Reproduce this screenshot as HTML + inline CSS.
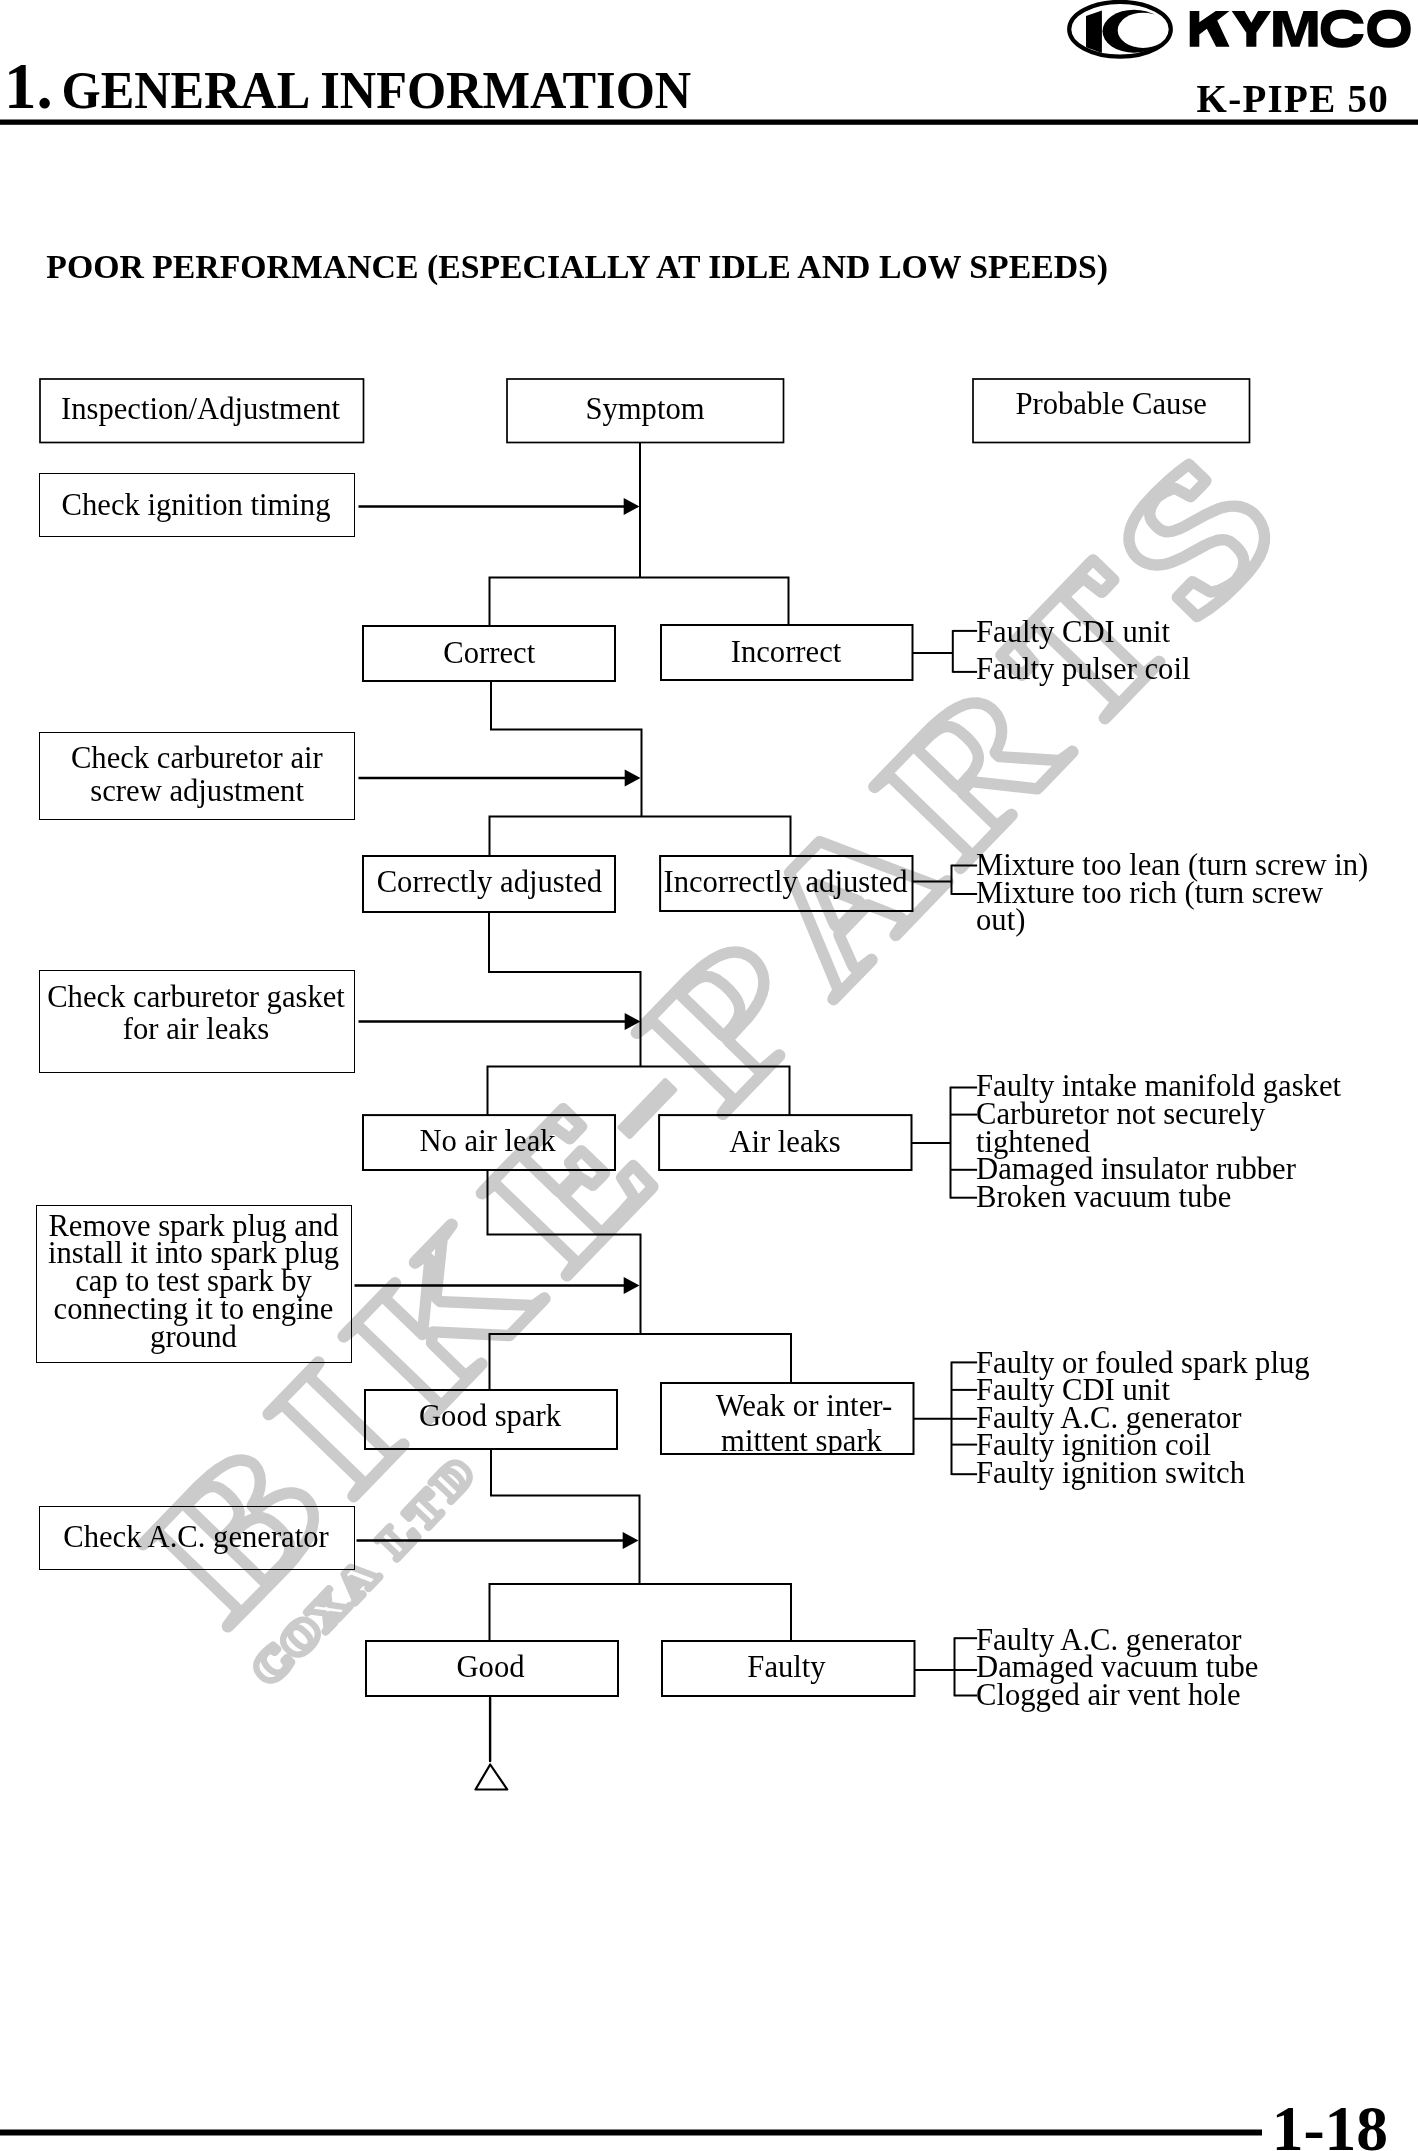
<!DOCTYPE html>
<html><head><meta charset="utf-8"><title>K-PIPE 50 - General Information</title>
<style>
html,body{margin:0;padding:0;background:#fff;}
body{width:1418px;height:2151px;position:relative;overflow:hidden;font-family:"Liberation Serif",serif;}
svg{position:absolute;left:0;top:0;will-change:transform;}
svg text{font-family:"Liberation Serif",serif;fill:#000;}
</style></head><body>
<svg width="1418" height="2151" viewBox="0 0 1418 2151">
<g transform="translate(228,1635) rotate(-46.0)" fill="#cbcbcb" fill-rule="evenodd">
<path d="M19.5,-14.2 5.1,-12.3 2.2,-11 0.3,-8.3 0,-6.5 0.2,-4 1,-2.5 3.4,-0.5 7,0.2 88,0.8 101,0.4 117.2,-1.7 127,-4.2 131.5,-5.9 139,-9.4 145.9,-14.3 151.5,-20.2 155,-26.3 156.5,-30.1 157.5,-34 158,-39.4 157.6,-42.9 156.1,-48 153.6,-52.9 151.7,-55.6 149.5,-58 145,-61.7 136.3,-66.5 129.9,-68.8 123.3,-70.4 129.9,-73.8 136.5,-78.9 141.6,-85 144.9,-91.7 146.3,-98.4 145.9,-103.6 143.8,-109.6 140.1,-115.1 134.9,-119.8 129.2,-123.1 125.6,-124.6 113.6,-127.9 103.6,-129.4 86.6,-130.5 7.4,-130.5 4.3,-130.2 2,-129 0.2,-126.3 0,-123.8 0.3,-122 2.2,-119.2 5.2,-118 19.5,-116.2ZM81.5,-60.7 89.2,-60.2 95.4,-58.9 99.9,-56.8 102,-55.2 103.6,-53.1 105.5,-49.2 106.5,-42.6 106.5,-35.1 105.6,-28 104.5,-24.7 102.4,-21 99.6,-18.4 95.9,-16.5 89.4,-15.4 69.2,-15.7 69.2,-60.7ZM69.2,-114.4 79.7,-114.4 86.2,-113.5 90.5,-111.6 93,-109.1 94.3,-105.8 95,-102.2 95.2,-96.8 94.9,-90.4 94.3,-86.6 92.8,-82.7 91.7,-81 89.4,-79.2 86.1,-77.7 81.8,-76.9 69.2,-76.8ZM57.9,-119.1 57.8,-73.2 58.6,-68.7 57.8,-64.3 57.9,-10.9 30.9,-11.2 30.9,-119.1ZM96.8,-70.4 100.5,-73.7 103.9,-79.3 105.4,-84.2 106.5,-92.2 106.5,-100.6 105.4,-108.5 103.6,-113.3 100.2,-118.3 111.3,-116.7 118.5,-115 124.2,-112.8 130.1,-109 133.5,-104.5 134.7,-101.1 135,-99.3 133.6,-94.1 132.1,-91.3 129.9,-88.5 125.5,-84.6 120.1,-81.5 113.6,-79.1 108.7,-78 106,-76.7 105.1,-75.5 104.2,-73.3 103.9,-67.7ZM112.3,-60.6 120.2,-59.4 126.6,-57.9 132.1,-55.9 138.5,-52.4 141.6,-49.8 144.8,-45.4 146.1,-42.2 146.5,-38 145.6,-33.5 143.6,-29 140.5,-24.8 136.1,-21.1 130.4,-17.8 123.5,-15.1 115.2,-12.9 109.7,-12 112.9,-16.2 115.9,-22.5 117.2,-28.1 117.9,-34.9 117.9,-43.2 117.1,-49.7 115.5,-54.9Z"/>
<path d="M198.1,-14.1 186,-12.3 183.8,-11.5 181.7,-9.4 181.2,-8.1 181.2,-4.3 182.5,-1.9 183.6,-0.9 185.6,-0.1 188.9,0.2 256.3,0.2 260.4,-0.1 262.5,-1 264.3,-3 265,-5.7 264.8,-8.1 264.3,-9.4 262.2,-11.5 260,-12.3 247.9,-14.1 247.9,-116.2 260.3,-118.1 262.2,-118.9 263.4,-119.8 264.8,-122.3 265,-124.6 264.3,-127.3 262.4,-129.4 260.2,-130.3 256.3,-130.5 188.9,-130.5 185.8,-130.3 183.6,-129.4 181.7,-127.3 181,-124.6 181.2,-122.3 181.7,-121 183.7,-118.9 185.9,-118.1 198.1,-116.3ZM236.5,-119.1 236.5,-11.2 209.5,-11.2 209.5,-119.1Z"/>
<path d="M307.1,-14.1 294.2,-12.3 291.9,-11.5 289.8,-9.5 289.2,-8.1 289,-5.7 289.9,-2.6 291,-1.4 293.2,-0.2 297,0.2 369.3,0.2 372.8,-0.1 375.2,-1.4 377,-4.1 377.2,-6.5 376.3,-9.7 375.1,-10.9 372.1,-12.3 356.9,-14.2 356.9,-53.5 359.5,-55.5 406.4,-1.9 408.1,-0.6 410.2,0.1 413,0.2 460,0.2 463.6,-0.1 466,-1.4 467.1,-2.6 468,-5.7 467.8,-8.2 467,-9.7 465.8,-11 463.7,-12.1 452.3,-14.3 392.7,-81.4 392.7,-81.9 436.2,-115.9 451.5,-118 453.7,-118.8 455.8,-120.8 456.4,-122.2 456.6,-124.6 455.7,-127.7 453.6,-129.6 451.6,-130.3 449.3,-130.5 399.7,-130.5 396.7,-130.3 394.7,-129.6 392.6,-127.7 391.9,-126.2 391.7,-123.7 392,-122.1 392.7,-120.5 393.9,-119.2 396,-118.2 402.8,-116.9 356.9,-80.6 356.9,-116.3 370.1,-118 373.1,-119.5 374.9,-122.2 375.1,-124.6 374.2,-127.7 373.1,-128.9 370.7,-130.2 366.5,-130.5 296.9,-130.5 293.4,-130.2 291,-128.9 289.9,-127.7 289,-124.6 289.2,-122.2 290.9,-119.5 294,-118 307.1,-116.3ZM345.5,-119.1 345.5,-68.9 345.7,-67.5 347,-65 349.3,-63.5 350.8,-63.2 348,-61.1 346.5,-59.4 345.6,-56.2 345.5,-11.2 318.5,-11.2 318.5,-119.1ZM381.5,-85.6 381.5,-78.8 382,-76.7 383,-75.2 439.9,-11.2 413.5,-11.2 364.5,-67 362.2,-68.6 360.4,-68.9ZM415.7,-114.4 416,-119.1 421.8,-119.1Z"/>
<path d="M492.8,-12.2 490.7,-11.4 489.5,-10.4 488.2,-8 488,-5.7 488.8,-2.9 489.7,-1.7 490.9,-0.7 494,0.1 614.4,0.2 618.8,-0 621.7,-1.6 623.2,-4 623.5,-5.4 625,-34.2 624.3,-37.2 623.4,-38.5 622.1,-39.5 620.3,-40.2 615.8,-40.5 602.7,-40.4 599.8,-39.7 598.4,-38.7 596.8,-35.8 592.2,-16.6 580.3,-16 554.3,-15.9 554.3,-58.1 569.3,-58.1 571.8,-47.2 574.2,-44.9 576.2,-44.2 589.4,-44 594.8,-44.3 596.6,-45 597.8,-45.9 598.7,-47.1 599.5,-49.9 599.5,-82.3 598.7,-85.2 596.6,-87.3 594.8,-88 592,-88.2 575.9,-88 574.2,-87.4 571.8,-85.1 569.3,-74.5 554.3,-74.5 554.3,-114.4 574.1,-114.3 586.3,-113.7 588.7,-98 589,-96.7 590.5,-94.6 593.4,-93.2 595.2,-93 612.4,-93.2 614.2,-93.9 615.5,-94.8 616.4,-96 617.1,-98.8 617.1,-124.6 616.4,-127.4 615.5,-128.6 614.2,-129.6 612.4,-130.2 607.1,-130.5 497.1,-130.5 492.7,-130.2 490.9,-129.6 489.7,-128.6 488.2,-126.1 488,-124.6 488.2,-122.3 489.6,-119.8 490.8,-118.8 492.7,-118.1 504.5,-116.4 504.5,-14ZM515.9,-11.3 515.9,-119.1 543,-119.1 542.9,-70.9 543.6,-66.3 542.9,-61.7 543,-11.2ZM605.7,-119.1 605.7,-104.3 599.2,-104.3 597,-119.1ZM579,-66.3 581.5,-76.9 588.1,-76.9 588.1,-55.4 581.5,-55.4ZM606.9,-29.1 613.3,-29.1 612.4,-11.2 602.7,-11.2Z"/>
<rect x="635" y="-73.2" width="70" height="18.4" rx="3"/>
<path d="M730.7,-14.1 717.8,-12.4 715.7,-11.7 713.5,-9.7 712.7,-8.2 712.5,-5.7 713.3,-2.8 715.5,-0.6 717.3,0 719.6,0.2 799.2,0.2 801.9,-0.2 804.2,-1.6 805.8,-4.2 806,-6.5 805.1,-9.5 802.9,-11.6 800.2,-12.4 780.5,-14.4 780.5,-48.7 806,-49.2 816.5,-50.5 825.2,-52.5 834.3,-55.9 840.8,-59.7 846.3,-64.4 851.7,-71.3 854.7,-77.6 856.6,-85.3 856.9,-92.9 855.6,-99.8 852.7,-106.9 850.2,-110.7 847.6,-113.7 842,-118.4 834.4,-122.7 825.6,-125.9 816.2,-128.1 810.4,-129 791.9,-130.4 718.2,-130.5 715.1,-130.1 712.7,-128.7 711.2,-126.1 711,-123.7 711.8,-120.9 713.9,-118.8 716.3,-117.9 730.7,-116.2ZM780.5,-114.4 788,-114.2 792.6,-113.6 796.4,-112.7 799.4,-111.4 801.4,-110.1 803,-108.3 804.3,-105.9 805.4,-102.5 806.4,-94.8 806.5,-87.1 805.8,-80.6 804.8,-76.2 803.4,-73 800.9,-69.7 797.3,-67.4 794,-66.2 787.9,-65.1 780.5,-64.9ZM769.1,-119.1 769.1,-61.3 769.8,-56.8 769.1,-52.3 769.1,-11.2 742,-11.2 742,-119.1ZM808.2,-60.9 812.2,-65.5 815.5,-72.4 817.1,-78.8 817.9,-86.7 817.8,-95.6 816.5,-105.2 813.7,-112.7 810.1,-117.5 818.4,-116 826.4,-113.6 829.7,-112.3 835.3,-109.2 839.6,-105.6 842.6,-101.5 844.6,-96.8 845.6,-91.3 845.2,-86.7 843.9,-81.5 841.7,-76.8 838.5,-72.7 834.3,-69.1 829,-66 822.4,-63.5 814.4,-61.7Z"/>
<path d="M876.5,-12.2 873.9,-10.8 872.9,-9.6 872.2,-8.1 872,-5.7 872.2,-4.3 873.4,-1.9 875.6,-0.4 877.1,0 927.9,0.2 933,0.1 935,-0.3 937.4,-1.9 938.6,-4.3 938.6,-8 937.2,-10.5 934.4,-12.1 921,-14 932,-41.4 965.9,-41.4 977.3,-14 965.5,-12 962.9,-10.5 961.5,-8 961.4,-4.3 962.7,-1.9 964.9,-0.4 967.1,0.1 972.2,0.2 1041.6,0.1 1044.4,-0.4 1046.6,-1.9 1047.4,-3.1 1048,-5.7 1047.8,-8.2 1046.1,-10.8 1043.5,-12.2 1035.9,-13.9 987,-127.9 985,-130.3 983.4,-131.1 980,-131.5 939.1,-131.4 936.4,-131 933.8,-129.2 883.9,-13.9ZM949.2,-82.4 959.4,-57.5 938.7,-57.5ZM942.1,-120.1 977.9,-120.1 1024.7,-11.2 989,-11.2 988.9,-14.7 988.3,-17.1 974.9,-49.3 974.1,-50.7 971.5,-52.5 971.4,-57.1 970.9,-59.6 954.5,-99.4 952.8,-101.8 951.5,-102.5 948.5,-102.9 945.8,-101.8 944,-99.5 927.2,-59.7 926.7,-57.1 926.6,-52.6 924.4,-51.4 922.8,-49.2 909.9,-17 909.4,-14.7 909.3,-11.2 895.1,-11.2Z"/>
<path d="M1071.8,-14.1 1059.6,-12.3 1057.2,-11.4 1055.2,-9.4 1054.6,-8 1054.6,-4.3 1055.9,-1.9 1058.4,-0.2 1061.9,0.2 1132.9,0.2 1135.7,-0 1137.9,-0.9 1139.7,-3 1140.4,-5.7 1140.2,-8.1 1138.6,-10.7 1135.4,-12.3 1121.6,-14.1 1121.6,-52.6 1127.2,-52.6 1166.2,-2.2 1167.8,-0.8 1169.9,0 1172.5,0.2 1220,0.2 1223.3,-0 1225.4,-0.9 1227.3,-3 1228,-5.7 1227.8,-7.9 1226.4,-10.5 1225.4,-11.4 1223.2,-12.2 1209.7,-14.4 1173.6,-57 1181,-60 1185.8,-62.7 1190.2,-66 1194.4,-70.2 1197.2,-74.2 1199.7,-79 1201.4,-84 1202.2,-88.6 1202.4,-94.8 1201.2,-101.2 1199.9,-104.6 1195.9,-111.4 1190.3,-117 1184.1,-121.1 1180.1,-123 1175.8,-124.7 1167.1,-127.2 1156.3,-129.1 1144.1,-130.2 1130.7,-130.5 1060.5,-130.5 1057.7,-130.3 1055.6,-129.4 1053.7,-127.3 1053,-124.6 1053.6,-121.3 1055.3,-119.1 1058.1,-118 1071.8,-116.2ZM1121.6,-114.4 1134.4,-114.2 1141.2,-113.3 1144.8,-112.3 1147.3,-111 1149,-109.7 1150.4,-107.9 1152,-103.6 1152.8,-99 1153.1,-92.5 1152.8,-85.2 1152,-80.8 1150.2,-76.1 1147.8,-73.2 1145.6,-71.8 1140.7,-70 1136.6,-69.2 1121.6,-68.8ZM1110.3,-119.1 1110.2,-65.2 1111,-60.7 1110.2,-56.2 1110.2,-11.2 1083.2,-11.2 1083.2,-119.1ZM1137.6,-57.8 1146.3,-59.7 1150.7,-61.6 1153.4,-63.2 1156.7,-66 1158.6,-68.2 1161.1,-72.5 1162.3,-75.3 1163.6,-80.8 1164.4,-87.4 1164.5,-93.3 1164.1,-100.7 1163.1,-106.5 1161.5,-111.2 1160,-114 1157.4,-117.4 1164.4,-116.1 1172.2,-113.9 1178.5,-111.1 1183.3,-108 1185.2,-106.2 1188.2,-102.4 1189.3,-100.3 1190.8,-95.7 1191,-90.4 1190.3,-86.9 1189.2,-83.4 1187.5,-80.2 1185.4,-77.3 1182.8,-74.7 1179.5,-72.2 1175.7,-70.1 1171.2,-68.2 1166,-66.6 1164.4,-65.9 1163.2,-64.7 1161.8,-61.3 1161.8,-55.1 1162.4,-53 1163.3,-51.6 1197.5,-11.2 1173.7,-11.2Z"/>
<path d="M1262.7,-4.2 1264.2,-1.6 1265.5,-0.7 1267.5,0 1270.8,0.2 1344.7,0.2 1348.3,-0 1350.1,-0.7 1351.3,-1.6 1352.8,-4.2 1353,-6.5 1352.2,-9.5 1350,-11.6 1347.9,-12.3 1332.7,-14.1 1332.7,-114.5 1349.2,-113.8 1351.3,-95 1352.2,-92.5 1354.3,-90.6 1356,-90 1358.8,-89.8 1375.2,-90 1377,-90.7 1378.3,-91.6 1379.2,-92.8 1380,-95.7 1380,-124.6 1379.2,-127.5 1378.3,-128.6 1377,-129.6 1375.2,-130.2 1369.8,-130.5 1245.2,-130.5 1240.8,-130.2 1239,-129.6 1237.7,-128.6 1236.8,-127.5 1236,-124.6 1236,-95.7 1236.8,-92.8 1237.7,-91.6 1239,-90.7 1240.8,-90 1257.1,-89.8 1259.9,-90 1261.6,-90.6 1263.7,-92.5 1264.6,-95 1266.7,-113.8 1282.8,-114.7 1282.8,-14.1 1267.9,-12.3 1265.6,-11.6 1264.3,-10.7 1262.7,-8.1ZM1255.8,-119.1 1253.8,-101.1 1247.4,-101.1 1247.4,-119.1ZM1321.4,-119.1 1321.3,-11.2 1294.2,-11.2 1294.2,-119.1ZM1368.6,-119.1 1368.6,-101.1 1362.1,-101.1 1360.1,-119.1Z"/>
<path d="M1427.1,-43.8 1406.4,-43.8 1403.8,-43.3 1401.4,-41.7 1400.2,-39.3 1400,-10.4 1400.7,-7.6 1401.6,-6.4 1404.1,-4.9 1419.2,-1.2 1437.6,1.3 1455.4,2.1 1474.2,1.6 1485.9,0.2 1494.8,-1.9 1502.6,-5 1509.4,-9.1 1515.1,-14.3 1519.6,-20.4 1522.8,-27.3 1524.4,-34.1 1525,-41.4 1524.3,-46.9 1522.5,-53 1519.5,-58.8 1515.7,-63.8 1511.1,-68.2 1505.7,-72.1 1501.3,-74.6 1496,-77 1486,-80.7 1461.9,-88.1 1454,-91.6 1451.1,-93.6 1449.1,-96.1 1448.2,-99.2 1448.1,-103 1448.4,-106.9 1449,-109.1 1450.4,-111.3 1451.7,-112.6 1454.9,-114.3 1457.8,-115.2 1462.9,-116.2 1464.8,-116 1471.5,-114.4 1477.8,-111.6 1482,-96.7 1483.3,-94.4 1485.6,-92.9 1489.2,-92.4 1503.2,-92.3 1509,-92.4 1511.6,-92.9 1513.9,-94.5 1514.7,-95.6 1515.4,-98.3 1515.4,-122 1514.7,-124.7 1513.9,-125.9 1512.8,-126.8 1510.5,-127.7 1497.7,-129.7 1485,-131.1 1465.4,-131.9 1448.4,-131.5 1438.2,-130.3 1429.7,-128.3 1422.7,-125.8 1419.4,-124.1 1413.2,-120 1408.4,-115.4 1406,-112.1 1403.1,-106.4 1401.3,-100 1400.9,-94.3 1401.6,-88.2 1403.2,-83 1406.3,-76.9 1410.1,-71.9 1413.7,-68.3 1419,-64.4 1425,-61 1436.2,-56.4 1463.7,-47.7 1468.9,-45.4 1473.6,-42.4 1476.1,-39.7 1477.3,-36.4 1477.6,-30.9 1477.2,-26.5 1476.5,-23.4 1475.4,-21 1473.9,-19.1 1472,-17.4 1469.5,-15.9 1466.3,-14.7 1458.9,-13.4 1453,-14.3 1448.1,-15.8 1442.3,-18.1 1437.7,-21 1433.3,-39.3 1432.8,-40.6 1431,-42.7 1429.6,-43.4ZM1411.4,-32.5 1423.2,-32.5 1427.1,-16.4 1428.7,-13.8 1432.5,-10.7 1421.2,-12.4 1411.4,-14.6ZM1481.6,-10.7 1485.2,-15.2 1487.3,-19.6 1488.5,-24.8 1489,-30.8 1488.8,-36.2 1488,-40.8 1485.9,-45.5 1483.5,-48.7 1480.8,-51.3 1477.8,-53.4 1470.1,-57.4 1463.1,-60 1439.9,-67.1 1428.8,-71.8 1424.1,-74.6 1420.3,-77.7 1417.2,-81.2 1415.3,-84.1 1413.4,-88.3 1412.4,-92.9 1412.3,-96.2 1413,-100.1 1414.6,-104.2 1417,-107.9 1420.4,-111.2 1424.7,-114 1433.1,-117.4 1442.3,-119.4 1439.5,-115.7 1437.8,-111.7 1436.9,-106.9 1436.6,-102 1436.9,-97.7 1437.8,-93.6 1439.9,-89.3 1442.3,-86.3 1446.8,-82.7 1453.9,-79 1460.5,-76.5 1482.3,-69.9 1496.2,-64.4 1501,-61.5 1505,-58.4 1508.2,-55 1510.7,-51.3 1512.8,-46 1513.6,-41.3 1513.2,-36.3 1512,-31 1509.8,-26.2 1506.7,-22 1502.7,-18.4 1497.6,-15.3 1491.3,-12.8 1483.9,-11ZM1486.4,-119.5 1504,-117.3 1504,-103.7 1491.9,-103.7 1488.2,-116.8Z"/>
</g>
<path transform="translate(272.1,1664.7) rotate(-46.5)" fill="#cbcbcb" fill-rule="evenodd" d="M2.2,17.9 8.1,17.6 14.5,16.5 16.7,15.8 17.8,15.2 18.4,14.6 18.9,13.7 19,12.7 19.1,4.7 18.7,3.8 17.4,2.7 16.1,2.2 14.4,2.1 11.1,2.1 9.4,2.6 8.7,3 7.7,4.3 7,8.1 5.5,8.6 3.9,8.8 2.9,8.7 1.6,8.3 0.1,7.1 -1,5.1 -1.7,2.1 -1.7,-1.9 -1,-5.2 -0.6,-6.3 0.3,-7.4 1.4,-8.2 2.3,-8.6 4.4,-8.8 6.6,-8.2 7.3,-5 8.2,-3.7 9.5,-3.1 11.3,-2.8 15.1,-2.9 16.3,-3.1 17.7,-3.9 18.2,-4.6 18.6,-5.4 18.7,-6.3 18.6,-13.1 18.4,-14 18,-14.8 17.5,-15.5 16.7,-16 14.6,-16.6 10.8,-17.3 5.2,-17.8 -0.1,-17.8 -5.8,-17.1 -10.1,-15.6 -11.6,-14.8 -13.7,-13.2 -15.9,-10.9 -16.7,-9.7 -17.8,-7.4 -18.4,-5.7 -19,-2.8 -19.2,0.3 -19,3.2 -18.7,4.9 -17.8,7.5 -16.5,9.9 -15.6,11.1 -14.5,12.3 -12.4,14.1 -10,15.5 -8.4,16.2 -5.6,17.1 -3.6,17.5ZM-8.2,-9.4 -5.4,-10.5 -6.7,-8.2 -7.7,-5.1 -8.1,-2.4 -8.1,1.6 -7.9,4.1 -7.4,6.4 -6.5,8.6 -5.4,10.5 -7.1,9.8 -8.7,8.8 -10.6,7.1 -11.6,5.7 -12.2,4.2 -12.7,1.4 -12.6,-2.1 -12.2,-4.1 -11.6,-5.7 -10.7,-7.1 -9.6,-8.3Z"/>
<path transform="translate(300.5,1637.2) rotate(-46.5)" fill="#cbcbcb" fill-rule="evenodd" d="M-21.1,1.5 -20.4,6 -19.9,7.5 -18.7,9.8 -16.8,12.3 -15.7,13.3 -13.6,14.8 -10.7,16.3 -6.2,17.4 -1.9,17.9 4,17.7 7.7,17.1 11,16.1 14.6,14.2 17,12.1 17.9,11 19.3,8.8 20.4,6 21,2.9 21.1,-1.7 20.4,-6.1 19.9,-7.6 18.7,-9.9 16.8,-12.4 15.8,-13.4 13.7,-14.8 10.8,-16.3 6.2,-17.4 1.9,-17.9 -4,-17.7 -7.9,-17.1 -11.2,-16.1 -13.6,-15 -15.7,-13.5 -17.7,-11.5 -19.4,-8.9 -20.4,-6.2 -21,-3.2ZM-3.7,-2.4 -3.2,-5.8 -2.5,-7.3 -1.9,-8.1 -1.1,-8.6 0,-8.9 1.1,-8.6 2.1,-7.9 3,-6.4 3.5,-4.3 3.8,-1.3 3.7,2.2 3.3,5 2.7,6.8 2.1,7.9 1.1,8.6 0,8.9 -1.1,8.6 -2.1,7.9 -2.7,6.8 -3.3,5 -3.6,3.2ZM-14.8,-0 -14.6,-2.4 -14.2,-4.4 -13.6,-6 -12.8,-7.4 -11.7,-8.5 -10.4,-9.4 -8.1,-10.4 -9,-8.5 -9.6,-6.4 -10.1,-2.9 -10.2,-0 -10,3.9 -9.6,6.2 -9,8.4 -8.1,10.4 -11,8.9 -12.2,7.8 -13.2,6.6 -13.9,5.1 -14.5,3.3ZM8.1,-10.4 11.1,-8.9 12.3,-7.9 13.2,-6.6 14,-5.2 14.5,-3.4 14.8,-0.1 14.5,3.3 13.9,5.1 13.2,6.6 12.2,7.8 11,8.9 9.5,9.8 8.1,10.4 8.9,8.6 9.6,6.4 10.2,1.3 10.1,-2.8 9.8,-5.4 9,-8.5Z"/>
<path transform="translate(328.0,1609.7) rotate(-46.5)" fill="#cbcbcb" fill-rule="evenodd" d="M-2.3,16.6 -0.6,17.4 0.9,17.5 17.4,17.5 19.6,17 20.4,16.5 21,15.8 21.3,15 21.5,12.5 21.3,11.7 20.9,10.8 20.4,10.1 19.6,9.6 18.6,9.3 16.4,8.9 8.5,-2.1 14.5,-8.9 16.8,-9.3 17.8,-9.6 18.6,-10.1 19.1,-10.8 19.5,-11.7 19.6,-12.5 19.5,-15 19.1,-15.8 17.9,-17 16.8,-17.4 15.2,-17.5 3.7,-17.5 1.9,-17.3 -0.2,-17.5 -16.1,-17.5 -17.6,-17.4 -18.6,-17 -19.4,-16.5 -19.9,-15.8 -20.3,-15 -20.4,-12.5 -20.3,-11.6 -19.9,-10.8 -19.3,-10.1 -18.6,-9.6 -15.4,-8.9 -8.7,0.3 -16.3,8.9 -18.6,9.3 -19.6,9.6 -20.4,10.2 -21,10.8 -21.3,11.7 -21.5,12.5 -21.3,15 -21,15.8 -20.4,16.5 -19.6,17 -17.4,17.5 -5.4,17.5 -3.5,17.2ZM-1.9,9.7 -1.9,9.8 -2.1,9.9ZM-1.6,1.4 -1.5,0.2 -2.1,-1.4 -9.1,-11.1 -5.7,-11.1 -5.2,-10 -1.2,-4.5 0.1,-3.5 1.4,-3.2 1.2,-2 1.8,-0.4 10.1,11.1 6.7,11.1 6.2,10 0.9,2.7 -0.3,1.7Z"/>
<path transform="translate(357.3,1580.3) rotate(-46.5)" fill="#cbcbcb" fill-rule="evenodd" d="M-4.9,8.3 -0.1,8.3 0.5,9.5 -0.8,10.3 -1.4,11 -1.7,11.8 -1.9,14.2 -1.7,15.1 -1.3,15.9 -0.8,16.6 0.7,17.4 2.9,17.6 18.3,17.6 19.9,17.1 20.7,16.6 21.7,15.1 21.8,12.7 21.7,11.8 21.3,11 20.7,10.3 20,9.8 18.5,9.3 8,-15.5 7.2,-16.5 6.2,-17.2 3.9,-17.6 -4.1,-17.6 -6.1,-17.2 -7.2,-16.5 -7.9,-15.5 -18.5,9.3 -20,9.8 -20.7,10.3 -21.3,11 -21.7,11.8 -21.8,12.7 -21.7,15.1 -20.7,16.6 -19.9,17.1 -18.3,17.6 -6.9,17.6 -5.5,17.5 -4.4,17.1 -3.7,16.6 -2.7,15.1 -2.6,12.7 -2.7,11.7 -3.2,10.8 -4.4,9.7 -5.3,9.4ZM4.1,2.6 3.9,1 0.2,-8 -1.2,-9 -2,-9.2 -2.8,-9.2 -3.8,-8.9 -2.8,-11.2 2.8,-11.2 12.3,11.2 8,11.2 5,3.8Z"/>
<path transform="translate(397.7,1538.2) rotate(-46.5)" fill="#cbcbcb" fill-rule="evenodd" d="M3,-9.2 4.7,-9.6 5.5,-10.2 6.4,-11.7 6.5,-12.5 6.4,-15 6,-15.8 5.4,-16.5 4.1,-17.2 1.7,-17.5 -15.4,-17.5 -17.6,-17 -18.3,-16.5 -18.9,-15.8 -19.3,-15 -19.4,-12.5 -19.3,-11.6 -18.9,-10.7 -17.5,-9.6 -15.4,-9.1 -15.4,9.1 -17.6,9.6 -18.9,10.7 -19.3,11.6 -19.4,12.5 -19.3,15 -18.4,16.5 -17,17.2 -15.1,17.5 13.8,17.5 16.1,17.3 17.4,16.6 17.9,16 18.5,14.4 19.4,5.9 19.4,5 19,4 18.5,3.3 17.6,2.7 16.4,2.3 14.7,2.1 11.4,2.2 9.8,2.5 9.1,2.9 8.2,3.9 6.6,8.3 1.6,8.4 1.6,-9ZM-9,-11.1 -4.8,-11.1 -4.8,11.1 -9,11.1Z"/>
<path transform="translate(425.2,1510.7) rotate(-46.5)" fill="#cbcbcb" fill-rule="evenodd" d="M-8.6,9 -10.8,9.3 -11.9,9.7 -13.1,10.8 -13.5,11.7 -13.6,14.1 -13.5,15 -12.5,16.5 -11.2,17.2 -8.8,17.5 9.1,17.5 11,17.2 12.4,16.5 13.3,15 13.5,14.1 13.3,11.7 13,10.9 12.4,10.2 11.1,9.4 8.5,9 8.5,-5.5 9,-4.3 9.6,-3.7 10.3,-3.2 11.5,-2.9 16.6,-2.8 18.3,-3.3 19.1,-3.8 20,-5.3 20.1,-6.2 20.1,-14.1 20,-15 19.1,-16.5 17.7,-17.2 15.7,-17.5 -15.3,-17.5 -17.5,-17.3 -19.1,-16.5 -20,-15 -20.1,-14.1 -20.1,-6.2 -20,-5.3 -19.1,-3.8 -18.3,-3.3 -16.6,-2.8 -11.7,-2.9 -10.3,-3.2 -9.6,-3.7 -9,-4.3 -8.6,-5.1ZM2.1,-11.1 2.1,11.1 -2.2,11.1 -2.2,-11.1Z"/>
<path transform="translate(452.7,1479.7) rotate(-46.5)" fill="#cbcbcb" fill-rule="evenodd" d="M-15.8,-17.6 -18,-17.3 -19.5,-16.5 -20.5,-15 -20.6,-14.1 -20.4,-11.6 -20,-10.7 -19.4,-10.1 -18.6,-9.6 -16.5,-9.1 -16.5,9 -18.7,9.6 -20,10.7 -20.5,11.6 -20.6,12.5 -20.5,14.9 -19.5,16.4 -18.2,17.2 -16.3,17.5 0.1,17.6 4.6,17.3 8,16.8 12,15.4 14.6,13.9 16.6,12 18.3,9.6 19.4,7.3 19.9,5.9 20.4,2.8 20.5,-1.7 20.1,-4.9 18.9,-8.7 17.3,-11.2 15.5,-13.1 14.1,-14.1 11.6,-15.5 8.8,-16.5 5.5,-17.1 -0.5,-17.6ZM0.4,-7.6 1.5,-6.8 2.5,-5.1 3,-2.9 3.2,-0 3,3.6 2.5,5.9 1.6,7.6 0.4,8.2ZM-10.1,-11.2 -6,-11.2 -6,11.1 -10.1,11.1ZM6.9,-10.4 9.1,-9.6 10.6,-8.8 11.8,-7.8 12.7,-6.6 13.4,-5.2 13.9,-3.5 14.2,-0.2 13.9,3.2 13.4,5 12.7,6.5 11.8,7.7 10.7,8.7 9.3,9.6 7.6,10.3 8.6,8 9.1,5.8 9.5,2.6 9.6,-1.3 9.3,-3.8 8.9,-6.1 8,-8.4Z"/>
<!-- header -->
<text x="4" y="107.6" font-size="65" font-weight="bold">1.</text>
<text transform="translate(61.5,107.6) scale(1,1.05)" font-size="50.35" font-weight="bold">GENERAL INFORMATION</text>
<text x="1196.5" y="111.5" font-size="39" font-weight="bold" letter-spacing="1.3">K-PIPE 50</text>
<rect x="0" y="119.5" width="1418" height="5.3" fill="#000"/>
<g transform="translate(1180,0) scale(0.16784)" fill="#000">
<path d="M58,65H115V132L213,65H295L222,122L295,278H215L160,172L115,205V278H58Z"/>
<path d="M308,65H385L425,135L465,65H543L455,195V278H395V195Z"/>
<path d="M555,65H640L688,215L735,65H820V278H765V125L712,278H662L610,125V278H555Z"/>
<path fill-rule="evenodd" d="M968,58C1053.8,58 1098,96.6 1098,171.5C1098,246.4 1053.8,285 968,285C882.2,285 838,246.4 838,171.5C838,96.6 882.2,58 968,58ZM968,110C1013.3,110 1041,133.2 1041,171C1041,208.8 1013.3,232 968,232C922.7,232 895,208.8 895,171C895,133.2 922.7,110 968,110Z"/>
<rect x="1030" y="141" width="80" height="62" fill="#fff"/>
<path fill-rule="evenodd" d="M1245,58C1330.8,58 1375,96.6 1375,171.5C1375,246.4 1330.8,285 1245,285C1159.2,285 1115,246.4 1115,171.5C1115,96.6 1159.2,58 1245,58ZM1245,110C1290.3,110 1318,133.2 1318,171C1318,208.8 1290.3,232 1245,232C1199.7,232 1172,208.8 1172,171C1172,133.2 1199.7,110 1245,110Z"/>
</g>
<g>
<polygon points="1086,15.9 1101.9,10.6 1101.9,52.9 1086,47.2" fill="#000"/>
<ellipse cx="1134" cy="31.2" rx="31.5" ry="21.5" fill="#000"/>
<ellipse cx="1143.1" cy="30.3" rx="25.4" ry="17.6" fill="#fff"/>
<ellipse cx="1120" cy="29.3" rx="50.8" ry="27.4" fill="none" stroke="#000" stroke-width="4.2"/>
</g>
<text x="46.3" y="278.3" font-size="33.76" font-weight="bold">POOR PERFORMANCE (ESPECIALLY AT IDLE AND LOW SPEEDS)</text>
<!-- flowchart -->
<g transform="translate(0.5,0.5)"><rect x="39.5" y="378.5" width="323.5" height="63.5" fill="none" stroke="#000" stroke-width="1.7"/>
<text transform="translate(200.0,418) scale(1,1.0)" text-anchor="middle" font-size="30.65" font-weight="normal" >Inspection/Adjustment</text>
<rect x="506.5" y="378.5" width="276.5" height="63.5" fill="none" stroke="#000" stroke-width="1.7"/>
<text transform="translate(644.5,418) scale(1,1.0)" text-anchor="middle" font-size="30.65" font-weight="normal" >Symptom</text>
<rect x="972.5" y="378.5" width="276.5" height="63.5" fill="none" stroke="#000" stroke-width="1.7"/>
<text transform="translate(1110.7,413.8) scale(1,1.0)" text-anchor="middle" font-size="30.65" font-weight="normal" >Probable Cause</text>
<rect x="39.0" y="473.0" width="315.0" height="63.0" fill="none" stroke="#000" stroke-width="1"/>
<text transform="translate(195.5,514) scale(1,1.0)" text-anchor="middle" font-size="30.65" font-weight="normal" >Check ignition timing</text>
<rect x="39.0" y="732.0" width="315.0" height="87.0" fill="none" stroke="#000" stroke-width="1"/>
<text transform="translate(196.3,767.5) scale(1,1.0)" text-anchor="middle" font-size="30.65" font-weight="normal" >Check carburetor air</text>
<text transform="translate(196.6,800.5) scale(1,1.0)" text-anchor="middle" font-size="30.65" font-weight="normal" >screw adjustment</text>
<rect x="39.0" y="970.0" width="315.0" height="102.0" fill="none" stroke="#000" stroke-width="1"/>
<text transform="translate(195.5,1006) scale(1,1.0)" text-anchor="middle" font-size="30.65" font-weight="normal" >Check carburetor gasket</text>
<text transform="translate(195.5,1038) scale(1,1.0)" text-anchor="middle" font-size="30.65" font-weight="normal" >for air leaks</text>
<rect x="36.0" y="1205.0" width="315.0" height="157.0" fill="none" stroke="#000" stroke-width="1"/>
<text transform="translate(193.0,1235.0) scale(1,1.0)" text-anchor="middle" font-size="30.65" font-weight="normal" >Remove spark plug and</text>
<text transform="translate(193.0,1262.8) scale(1,1.0)" text-anchor="middle" font-size="30.65" font-weight="normal" >install it into spark plug</text>
<text transform="translate(193.0,1290.6) scale(1,1.0)" text-anchor="middle" font-size="30.65" font-weight="normal" >cap to test spark by</text>
<text transform="translate(193.0,1318.4) scale(1,1.0)" text-anchor="middle" font-size="30.65" font-weight="normal" >connecting it to engine</text>
<text transform="translate(193.0,1346.2) scale(1,1.0)" text-anchor="middle" font-size="30.65" font-weight="normal" >ground</text>
<rect x="39.0" y="1506.0" width="315.0" height="63.0" fill="none" stroke="#000" stroke-width="1"/>
<text transform="translate(195.5,1546) scale(1,1.0)" text-anchor="middle" font-size="30.65" font-weight="normal" >Check A.C. generator</text>
<line x1="358" y1="506" x2="625.2" y2="506" stroke="#000" stroke-width="2.7"/>
<polygon points="639,506 623.2,497.6 623.2,514.4" fill="#000"/>
<line x1="358" y1="777.5" x2="626.2" y2="777.5" stroke="#000" stroke-width="2.7"/>
<polygon points="640,777.5 624.2,769.1 624.2,785.9" fill="#000"/>
<line x1="358" y1="1021" x2="626.2" y2="1021" stroke="#000" stroke-width="2.7"/>
<polygon points="640,1021 624.2,1012.6 624.2,1029.4" fill="#000"/>
<line x1="354" y1="1285" x2="625.2" y2="1285" stroke="#000" stroke-width="2.7"/>
<polygon points="639,1285 623.2,1276.6 623.2,1293.4" fill="#000"/>
<line x1="356" y1="1540" x2="624.2" y2="1540" stroke="#000" stroke-width="2.7"/>
<polygon points="638,1540 622.2,1531.6 622.2,1548.4" fill="#000"/>
<line x1="639.5" y1="442" x2="639.5" y2="577" stroke="#000" stroke-width="2"/>
<polyline points="489,625 489,577 788,577 788,624" fill="none" stroke="#000" stroke-width="2" stroke-linejoin="miter"/>
<rect x="362.5" y="625.5" width="252.0" height="55.0" fill="none" stroke="#000" stroke-width="2"/>
<text transform="translate(488.7,662) scale(1,1.0)" text-anchor="middle" font-size="30.65" font-weight="normal" >Correct</text>
<rect x="660.5" y="624.5" width="251.5" height="55.0" fill="none" stroke="#000" stroke-width="2"/>
<text transform="translate(785.5,661) scale(1,1.0)" text-anchor="middle" font-size="30.65" font-weight="normal" >Incorrect</text>
<polyline points="490.5,680.5 490.5,729 641,729 641,816" fill="none" stroke="#000" stroke-width="2" stroke-linejoin="miter"/>
<polyline points="489,855.5 489,816 790,816 790,855.5" fill="none" stroke="#000" stroke-width="2" stroke-linejoin="miter"/>
<rect x="362.5" y="855.5" width="252.0" height="56.0" fill="none" stroke="#000" stroke-width="2"/>
<text transform="translate(488.9,891.3) scale(1,1.0)" text-anchor="middle" font-size="30.65" font-weight="normal" >Correctly adjusted</text>
<rect x="659.6" y="855.5" width="252.39999999999998" height="55.0" fill="none" stroke="#000" stroke-width="2"/>
<text transform="translate(785.0,891) scale(1,1.0)" text-anchor="middle" font-size="30.65" font-weight="normal" >Incorrectly adjusted</text>
<polyline points="488.5,911.5 488.5,971.5 640,971.5 640,1066" fill="none" stroke="#000" stroke-width="2" stroke-linejoin="miter"/>
<polyline points="487,1114.6 487,1066 789,1066 789,1114.6" fill="none" stroke="#000" stroke-width="2" stroke-linejoin="miter"/>
<rect x="362.5" y="1114.6" width="252.0" height="54.90000000000009" fill="none" stroke="#000" stroke-width="2"/>
<text transform="translate(487.0,1150) scale(1,1.0)" text-anchor="middle" font-size="30.65" font-weight="normal" >No air leak</text>
<rect x="658.6" y="1114.6" width="252.39999999999998" height="54.90000000000009" fill="none" stroke="#000" stroke-width="2"/>
<text transform="translate(784.5,1151) scale(1,1.0)" text-anchor="middle" font-size="30.65" font-weight="normal" >Air leaks</text>
<polyline points="487,1169.5 487,1234 640,1234 640,1333.5" fill="none" stroke="#000" stroke-width="2" stroke-linejoin="miter"/>
<polyline points="489,1389.5 489,1333.5 790.5,1333.5 790.5,1382.5" fill="none" stroke="#000" stroke-width="2" stroke-linejoin="miter"/>
<rect x="364.5" y="1389.5" width="252.0" height="59.0" fill="none" stroke="#000" stroke-width="2"/>
<text transform="translate(489.5,1425) scale(1,1.0)" text-anchor="middle" font-size="30.65" font-weight="normal" >Good spark</text>
<rect x="660.5" y="1382.5" width="252.5" height="71.0" fill="none" stroke="#000" stroke-width="2"/>
<clipPath id="cw"><rect x="660" y="1382" width="253" height="71.5"/></clipPath>
<g clip-path="url(#cw)">
<text transform="translate(803.5,1415) scale(1,1.0)" text-anchor="middle" font-size="30.8" font-weight="normal" >Weak or inter-</text>
<text transform="translate(801.0,1450) scale(1,1.0)" text-anchor="middle" font-size="30.65" font-weight="normal" >mittent spark</text>
</g>
<polyline points="490.5,1448.5 490.5,1495 639,1495 639,1583.5" fill="none" stroke="#000" stroke-width="2" stroke-linejoin="miter"/>
<polyline points="489,1640.5 489,1583.5 790.5,1583.5 790.5,1640.5" fill="none" stroke="#000" stroke-width="2" stroke-linejoin="miter"/>
<rect x="365.5" y="1640.5" width="252.0" height="55.0" fill="none" stroke="#000" stroke-width="2"/>
<text transform="translate(490.0,1676) scale(1,1.0)" text-anchor="middle" font-size="30.65" font-weight="normal" >Good</text>
<rect x="661.5" y="1640.5" width="252.5" height="55.0" fill="none" stroke="#000" stroke-width="2"/>
<text transform="translate(786.0,1676) scale(1,1.0)" text-anchor="middle" font-size="30.65" font-weight="normal" >Faulty</text>
<line x1="489.6" y1="1697.5" x2="489.6" y2="1760.5" stroke="#000" stroke-width="2.4" stroke-linecap="round"/>
<polygon points="489.7,1764 475,1789 506.8,1789" fill="none" stroke="#000" stroke-width="2.2" stroke-linejoin="round"/>
<line x1="912" y1="652.5" x2="952.3" y2="652.5" stroke="#000" stroke-width="2"/>
<line x1="952.3" y1="629.6" x2="952.3" y2="672.1999999999999" stroke="#000" stroke-width="2"/>
<line x1="952.3" y1="630.4" x2="976.6" y2="630.4" stroke="#000" stroke-width="2"/>
<line x1="952.3" y1="671.4" x2="976.6" y2="671.4" stroke="#000" stroke-width="2"/>
<text transform="translate(975.5,641.5) scale(1,1.0)" text-anchor="start" font-size="30.65" font-weight="normal" >Faulty CDI unit</text>
<text transform="translate(975.5,678.5) scale(1,1.0)" text-anchor="start" font-size="30.65" font-weight="normal" >Faulty pulser coil</text>
<line x1="912" y1="881" x2="951" y2="881" stroke="#000" stroke-width="2"/>
<line x1="951" y1="864.2" x2="951" y2="894.3" stroke="#000" stroke-width="2"/>
<line x1="951" y1="865" x2="976.6" y2="865" stroke="#000" stroke-width="2"/>
<line x1="951" y1="893.5" x2="976.6" y2="893.5" stroke="#000" stroke-width="2"/>
<text transform="translate(975.5,874) scale(1,1.0)" text-anchor="start" font-size="30.65" font-weight="normal" >Mixture too lean (turn screw in)</text>
<text transform="translate(975.5,902) scale(1,1.0)" text-anchor="start" font-size="30.65" font-weight="normal" >Mixture too rich (turn screw</text>
<text transform="translate(975.5,929.2) scale(1,1.0)" text-anchor="start" font-size="30.65" font-weight="normal" >out)</text>
<line x1="911" y1="1142.5" x2="950" y2="1142.5" stroke="#000" stroke-width="2"/>
<line x1="950" y1="1086.2" x2="950" y2="1198.0" stroke="#000" stroke-width="2"/>
<line x1="950" y1="1087" x2="976.6" y2="1087" stroke="#000" stroke-width="2"/>
<line x1="950" y1="1114.1" x2="976.6" y2="1114.1" stroke="#000" stroke-width="2"/>
<line x1="950" y1="1169.3" x2="976.6" y2="1169.3" stroke="#000" stroke-width="2"/>
<line x1="950" y1="1197.2" x2="976.6" y2="1197.2" stroke="#000" stroke-width="2"/>
<text transform="translate(975.5,1095) scale(1,1.0)" text-anchor="start" font-size="30.65" font-weight="normal" >Faulty intake manifold gasket</text>
<text transform="translate(975.5,1123.5) scale(1,1.0)" text-anchor="start" font-size="30.65" font-weight="normal" >Carburetor not securely</text>
<text transform="translate(975.5,1151) scale(1,1.0)" text-anchor="start" font-size="30.65" font-weight="normal" >tightened</text>
<text transform="translate(975.5,1178.5) scale(1,1.0)" text-anchor="start" font-size="30.65" font-weight="normal" >Damaged insulator rubber</text>
<text transform="translate(975.5,1206) scale(1,1.0)" text-anchor="start" font-size="30.65" font-weight="normal" >Broken vacuum tube</text>
<line x1="913" y1="1418.3" x2="951" y2="1418.3" stroke="#000" stroke-width="2"/>
<line x1="951" y1="1361.1000000000001" x2="951" y2="1474.5" stroke="#000" stroke-width="2"/>
<line x1="951" y1="1361.9" x2="976.6" y2="1361.9" stroke="#000" stroke-width="2"/>
<line x1="951" y1="1389.4" x2="976.6" y2="1389.4" stroke="#000" stroke-width="2"/>
<line x1="951" y1="1418.3" x2="976.6" y2="1418.3" stroke="#000" stroke-width="2"/>
<line x1="951" y1="1444.1" x2="976.6" y2="1444.1" stroke="#000" stroke-width="2"/>
<line x1="951" y1="1473.7" x2="976.6" y2="1473.7" stroke="#000" stroke-width="2"/>
<text transform="translate(975.5,1372.1) scale(1,1.0)" text-anchor="start" font-size="30.65" font-weight="normal" >Faulty or fouled spark plug</text>
<text transform="translate(975.5,1399.6) scale(1,1.0)" text-anchor="start" font-size="30.65" font-weight="normal" >Faulty CDI unit</text>
<text transform="translate(975.5,1427.1) scale(1,1.0)" text-anchor="start" font-size="30.65" font-weight="normal" >Faulty A.C. generator</text>
<text transform="translate(975.5,1454.6) scale(1,1.0)" text-anchor="start" font-size="30.65" font-weight="normal" >Faulty ignition coil</text>
<text transform="translate(975.5,1482.6) scale(1,1.0)" text-anchor="start" font-size="30.65" font-weight="normal" >Faulty ignition switch</text>
<line x1="914" y1="1669.5" x2="954" y2="1669.5" stroke="#000" stroke-width="2"/>
<line x1="954" y1="1636.9" x2="954" y2="1695.8" stroke="#000" stroke-width="2"/>
<line x1="954" y1="1637.7" x2="976.6" y2="1637.7" stroke="#000" stroke-width="2"/>
<line x1="954" y1="1669.5" x2="976.6" y2="1669.5" stroke="#000" stroke-width="2"/>
<line x1="954" y1="1695" x2="976.6" y2="1695" stroke="#000" stroke-width="2"/>
<text transform="translate(975.5,1649) scale(1,1.0)" text-anchor="start" font-size="30.65" font-weight="normal" >Faulty A.C. generator</text>
<text transform="translate(975.5,1676) scale(1,1.0)" text-anchor="start" font-size="30.65" font-weight="normal" >Damaged vacuum tube</text>
<text transform="translate(975.5,1704) scale(1,1.0)" text-anchor="start" font-size="30.65" font-weight="normal" >Clogged air vent hole</text></g>
<!-- footer -->
<rect x="0" y="2129.5" width="1262" height="6" fill="#000"/>
<text x="1271.7" y="2150" font-size="63.5" font-weight="bold">1-18</text>
</svg>
</body></html>
